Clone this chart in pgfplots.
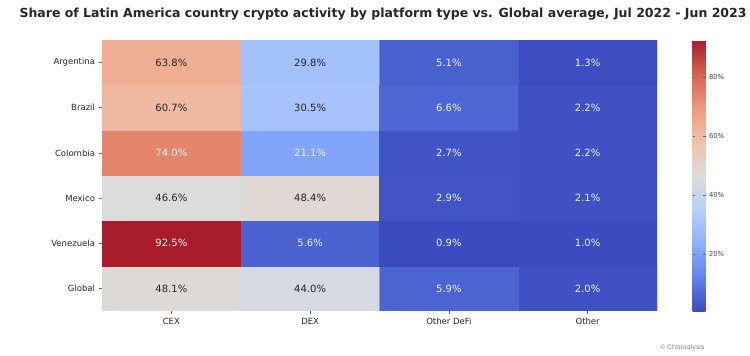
\documentclass[border=0pt]{standalone}
\usepackage{pgfplots}
\pgfplotsset{compat=1.18}
\usepackage{fontspec}
\setmainfont{DejaVu Sans}
\newfontfamily\poppins{Poppins}
\definecolor{txt}{HTML}{262626}
\definecolor{wtxt}{HTML}{F2F2F8}
\begin{document}
\begin{tikzpicture}[x=1pt,y=1pt]
\useasboundingbox (0,0) rectangle (750,356);
\node[font=\bfseries\fontsize{12.5}{14}\selectfont, text=txt] at (383,342) {Share of Latin America country crypto activity by platform type vs. Global average, Jul 2022 - Jun 2023};
\node[font=\poppins\fontsize{6.5}{8}\selectfont, text=black!50, anchor=east] at (708,8) {\textcopyright\ Chainalysis};
\begin{axis}[
  at={(102pt,45pt)}, anchor=south west,
  scale only axis, width=555pt, height=271pt,
  xmin=-0.5, xmax=3.5, ymin=-0.5, ymax=5.5,
  axis line style={draw=none},
  xtick={0,1,2,3}, xticklabels={CEX,DEX,Other DeFi,Other},
  ytick={0,1,2,3,4,5}, yticklabels={Global,Venezuela,Mexico,Colombia,Brazil,Argentina},
  tick align=outside, xtick pos=bottom, ytick pos=left,
  major tick length=3.5pt,
  tick style={draw=txt!70, line width=0.6pt},
  ticklabel style={font=\fontsize{8.5}{10}\selectfont, text=txt},
  colormap={coolwarm}{rgb255=(59,76,192) rgb255=(98,130,234) rgb255=(141,176,254) rgb255=(184,208,249) rgb255=(221,220,220) rgb255=(240,194,172) rgb255=(238,154,124) rgb255=(215,98,80) rgb255=(168,28,44)},
  point meta min=0.9, point meta max=92.5,
  colorbar,
  colorbar style={
    at={(parent axis.north east)}, anchor=north west, xshift=27pt,
    scale only axis, width=13pt, height=271pt,
    axis line style={draw=none},
    ytick={20,40,60,80}, yticklabels={20\%,40\%,60\%,80\%},
    yticklabel style={font=\fontsize{6.8}{8}\selectfont, text=txt!85},
    major tick length=2.5pt,
    tick style={draw=txt!70, line width=0.5pt},
  },
]
\addplot[matrix plot*, mesh/cols=4, point meta=explicit] table[meta=v] {
x y v
0 0 48.1
1 0 44.0
2 0 5.9
3 0 2.0
0 1 92.5
1 1 5.6
2 1 0.9
3 1 1.0
0 2 46.6
1 2 48.4
2 2 2.9
3 2 2.1
0 3 74.0
1 3 21.1
2 3 2.7
3 3 2.2
0 4 60.7
1 4 30.5
2 4 6.6
3 4 2.2
0 5 63.8
1 5 29.8
2 5 5.1
3 5 1.3
};
% dark labels
\addplot[only marks, mark=text, text mark={},
  point meta=explicit symbolic, nodes near coords={\pgfplotspointmeta\%},
  nodes near coords align=center,
  every node near coord/.append style={font=\fontsize{10}{12}\selectfont, text=txt, anchor=center}]
  table[meta=v] {
x y v
0 0 48.1
1 0 44.0
0 2 46.6
1 2 48.4
0 4 60.7
1 4 30.5
0 5 63.8
1 5 29.8
};
% light labels
\addplot[only marks, mark=text, text mark={},
  point meta=explicit symbolic, nodes near coords={\pgfplotspointmeta\%},
  nodes near coords align=center,
  every node near coord/.append style={font=\fontsize{10}{12}\selectfont, text=wtxt, anchor=center}]
  table[meta=v] {
x y v
2 0 5.9
3 0 2.0
0 1 92.5
1 1 5.6
2 1 0.9
3 1 1.0
2 2 2.9
3 2 2.1
0 3 74.0
1 3 21.1
2 3 2.7
3 3 2.2
2 4 6.6
3 4 2.2
2 5 5.1
3 5 1.3
};
\end{axis}
\end{tikzpicture}
\end{document}
